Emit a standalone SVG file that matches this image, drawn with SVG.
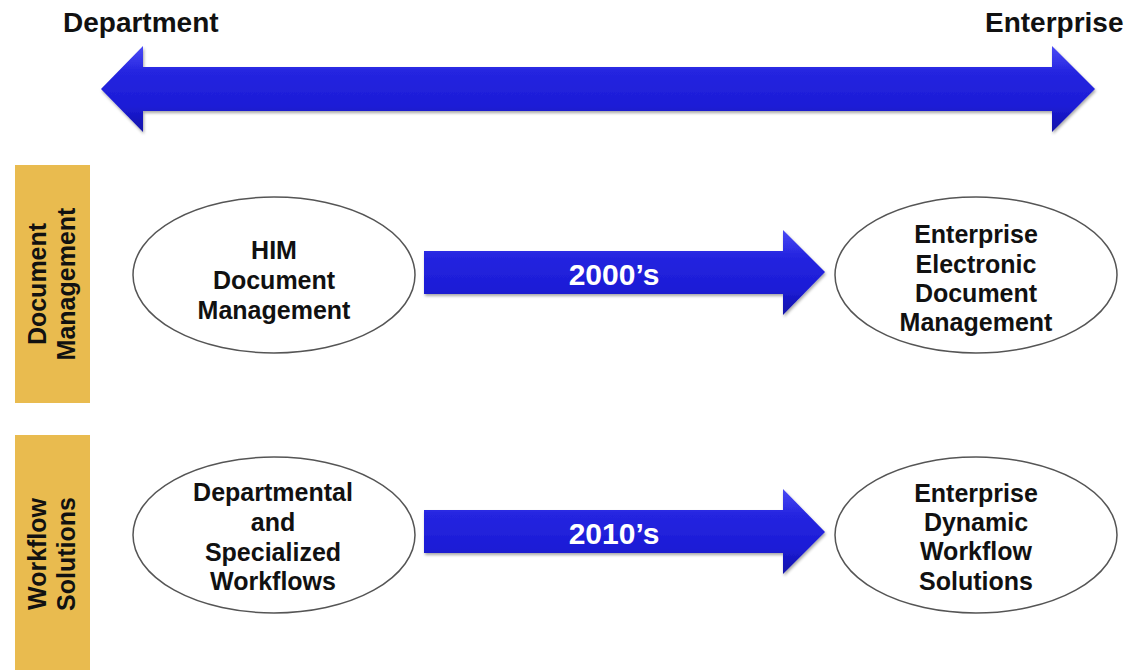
<svg xmlns="http://www.w3.org/2000/svg" width="1135" height="670" viewBox="0 0 1135 670">
<style>
.t{font-family:"Liberation Sans",Arial,sans-serif;font-weight:bold;fill:#111;}
.top{font-size:28px;}
.lbl{font-size:25px;text-anchor:middle;}
.side{font-size:25px;text-anchor:middle;}
.yr{font-family:"Liberation Sans",Arial,sans-serif;font-weight:bold;font-size:30px;fill:#fff;text-anchor:middle;}
.ell{fill:#fff;stroke:#555;stroke-width:1.5;}
.band{fill:#E9BB4F;}
.arr{fill:url(#blueGrad);filter:url(#shadow);}
</style>
<defs>
<linearGradient id="blueGrad" x1="0" y1="0" x2="0" y2="1">
<stop offset="0" stop-color="#4a4af5"/>
<stop offset="0.3" stop-color="#2525e0"/>
<stop offset="0.7" stop-color="#1c1cd6"/>
<stop offset="1" stop-color="#1212a8"/>
</linearGradient>
<filter id="shadow" x="-5%" y="-20%" width="110%" height="150%">
<feDropShadow dx="1" dy="2" stdDeviation="1.5" flood-color="#000" flood-opacity="0.35"/>
</filter>
</defs>

<g id="top-labels">
<text class="t top" x="63" y="32">Department</text>
<text class="t top" x="985" y="32">Enterprise</text>
</g>

<g id="band-document">
<rect class="band" x="15" y="165" width="75" height="238"/>
<text class="t side" transform="translate(46,284) rotate(-90)">Document</text>
<text class="t side" transform="translate(75,284) rotate(-90)">Management</text>
</g>

<g id="band-workflow">
<rect class="band" x="15" y="435" width="75" height="235"/>
<text class="t side" transform="translate(46,554) rotate(-90)">Workflow</text>
<text class="t side" transform="translate(75,554) rotate(-90)">Solutions</text>
</g>

<g id="node-him">
<ellipse class="ell" cx="274" cy="275" rx="141" ry="78"/>
<text class="t lbl" x="274" y="259">HIM</text>
<text class="t lbl" x="274" y="289">Document</text>
<text class="t lbl" x="274" y="319">Management</text>
</g>

<g id="node-eedm">
<ellipse class="ell" cx="976" cy="275" rx="141" ry="78"/>
<text class="t lbl" x="976" y="243">Enterprise</text>
<text class="t lbl" x="976" y="273">Electronic</text>
<text class="t lbl" x="976" y="302">Document</text>
<text class="t lbl" x="976" y="331">Management</text>
</g>

<g id="node-dept-workflows">
<ellipse class="ell" cx="274" cy="535" rx="141" ry="78"/>
<text class="t lbl" x="273" y="501">Departmental</text>
<text class="t lbl" x="273" y="531">and</text>
<text class="t lbl" x="273" y="561">Specialized</text>
<text class="t lbl" x="273" y="590">Workflows</text>
</g>

<g id="node-edws">
<ellipse class="ell" cx="976" cy="535" rx="141" ry="78"/>
<text class="t lbl" x="976" y="502">Enterprise</text>
<text class="t lbl" x="976" y="531">Dynamic</text>
<text class="t lbl" x="976" y="560">Workflow</text>
<text class="t lbl" x="976" y="590">Solutions</text>
</g>

<g id="connectors">
<path class="arr" d="M101,89 L143,46 L143,67 L1052,67 L1052,46 L1095,89 L1052,132 L1052,111 L143,111 L143,132 Z"/>
<path class="arr" d="M424,251 L783,251 L783,230 L825,272 L783,315 L783,294 L424,294 Z"/>
<text class="yr" x="614" y="285">2000’s</text>
<path class="arr" d="M424,510 L783,510 L783,489 L825,532 L783,574 L783,553 L424,553 Z"/>
<text class="yr" x="614" y="544">2010’s</text>
</g>
</svg>
